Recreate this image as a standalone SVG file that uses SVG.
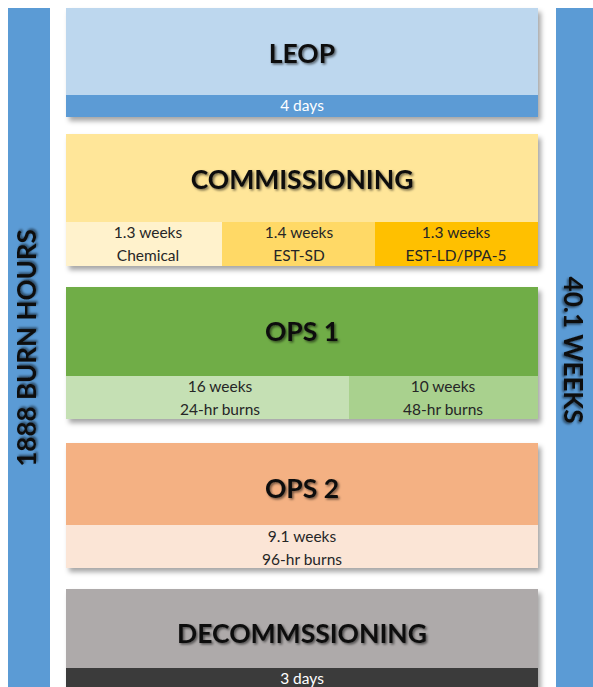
<svg xmlns="http://www.w3.org/2000/svg" width="593" height="687" viewBox="0 0 593 687">
<defs>
<filter id="boxShadow" x="-5%" y="-10%" width="115%" height="130%">
<feDropShadow dx="3" dy="4" stdDeviation="2.5" flood-color="#000" flood-opacity="0.35"/>
</filter>
<filter id="textShadow" x="-10%" y="-30%" width="120%" height="160%">
<feDropShadow dx="1.5" dy="1.5" stdDeviation="1.2" flood-color="#000" flood-opacity="0.55"/>
</filter>
<style>
.title{font-family:Lato,"Liberation Sans",sans-serif;font-weight:700;font-size:26.5px;fill:#111;text-anchor:middle;filter:url(#textShadow)}
.side{font-family:Lato,"Liberation Sans",sans-serif;font-weight:700;font-size:26px;fill:#111;text-anchor:middle;filter:url(#textShadow)}
.sub{font-family:Lato,"Liberation Sans",sans-serif;font-size:15.5px;fill:#262626;text-anchor:middle}
.subw{font-family:Lato,"Liberation Sans",sans-serif;font-size:15.5px;fill:#fff;text-anchor:middle}
.bar{fill:#5B9BD5}
</style>
</defs>
<rect width="593" height="687" fill="#fff"/>

<g id="left-bar">
<rect class="bar" x="8" y="8" width="42" height="679"/>
<text class="side" transform="translate(36,348) rotate(-90)">1888 BURN HOURS</text>
</g>

<g id="right-bar">
<rect class="bar" x="556" y="8" width="37" height="679"/>
<text class="side" transform="translate(564,350) rotate(90)">40.1 WEEKS</text>
</g>

<g id="leop">
<g filter="url(#boxShadow)">
<rect x="66" y="8" width="472" height="87" fill="#BDD7EE"/>
<rect x="66" y="95" width="472" height="22" fill="#5B9BD5"/>
</g>
<text class="title" x="302" y="63">LEOP</text>
<text class="subw" x="302" y="111">4 days</text>
</g>

<g id="commissioning">
<g filter="url(#boxShadow)">
<rect x="66" y="134" width="472" height="88" fill="#FFE699"/>
<rect x="66" y="222" width="156" height="44" fill="#FFF2CC"/>
<rect x="222" y="222" width="153" height="44" fill="#FFD966"/>
<rect x="375" y="222" width="163" height="44" fill="#FFC000"/>
</g>
<text class="title" x="302" y="189">COMMISSIONING</text>
<text class="sub" x="148" y="238">1.3 weeks</text>
<text class="sub" x="148" y="261">Chemical</text>
<text class="sub" x="299" y="238">1.4 weeks</text>
<text class="sub" x="299" y="261">EST-SD</text>
<text class="sub" x="456" y="238">1.3 weeks</text>
<text class="sub" x="456" y="261">EST-LD/PPA-5</text>
</g>

<g id="ops1">
<g filter="url(#boxShadow)">
<rect x="66" y="287" width="472" height="89" fill="#70AD47"/>
<rect x="66" y="376" width="283" height="43" fill="#C5E0B4"/>
<rect x="349" y="376" width="189" height="43" fill="#A9D18E"/>
</g>
<text class="title" x="302" y="341">OPS 1</text>
<text class="sub" x="220" y="392">16 weeks</text>
<text class="sub" x="220" y="415">24-hr burns</text>
<text class="sub" x="443" y="392">10 weeks</text>
<text class="sub" x="443" y="415">48-hr burns</text>
</g>

<g id="ops2">
<g filter="url(#boxShadow)">
<rect x="66" y="443" width="472" height="82" fill="#F4B183"/>
<rect x="66" y="525" width="472" height="43" fill="#FBE5D6"/>
</g>
<text class="title" x="302" y="498">OPS 2</text>
<text class="sub" x="302" y="542">9.1 weeks</text>
<text class="sub" x="302" y="565">96-hr burns</text>
</g>

<g id="decommissioning">
<g filter="url(#boxShadow)">
<rect x="66" y="589" width="472" height="79" fill="#AEAAAA"/>
<rect x="66" y="668" width="472" height="22" fill="#3B3B3B"/>
</g>
<text class="title" x="302" y="643">DECOMMSSIONING</text>
<text class="subw" x="302" y="684">3 days</text>
</g>

<g id="connectors"/>
</svg>
